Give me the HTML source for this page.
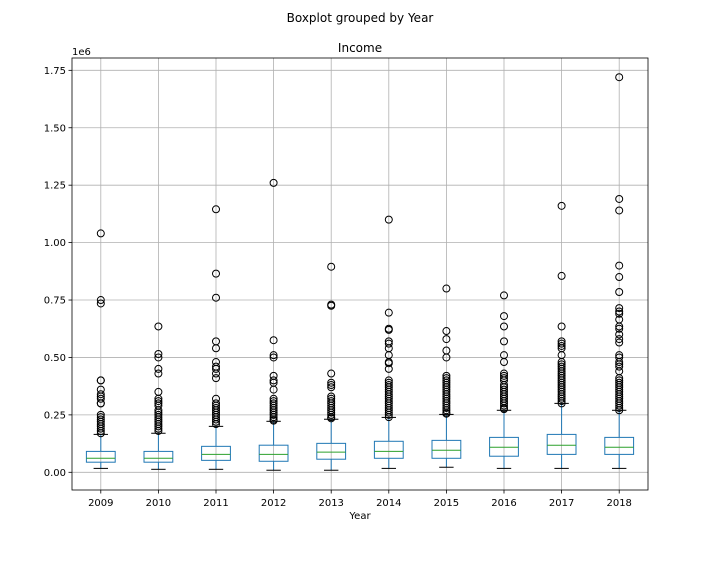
<!DOCTYPE html>
<html><head><meta charset="utf-8"><style>
body{margin:0;background:#fff;font-family:"Liberation Sans","DejaVu Sans",sans-serif;}
svg{display:block}
text{font-family:"DejaVu Sans","Liberation Sans",sans-serif;fill:#000}
</style></head><body>
<svg id="chart" width="720" height="576" viewBox="0 0 720 576">
<text x="360" y="22" font-size="12" text-anchor="middle">Boxplot grouped by Year</text>
<text x="360" y="52" font-size="12" text-anchor="middle">Income</text>
<text x="72" y="55" font-size="10">1e6</text>
<text x="360" y="519" font-size="10" text-anchor="middle">Year</text>
<g id="grid"></g><g id="marks"></g><g id="axes"></g>
</svg>
<script>
const years=["2009","2010","2011","2012","2013","2014","2015","2016","2017","2018"];
const q1=[0.044,0.044,0.052,0.048,0.057,0.061,0.061,0.070,0.078,0.078];
const medians=[0.061,0.061,0.078,0.078,0.088,0.091,0.096,0.109,0.118,0.109];
const q3=[0.091,0.091,0.113,0.118,0.126,0.135,0.139,0.152,0.165,0.152];
const whiskLow=[0.017,0.013,0.013,0.009,0.009,0.017,0.022,0.017,0.017,0.017];
const whiskHigh=[0.165,0.170,0.200,0.222,0.231,0.239,0.252,0.270,0.300,0.270];
const outliers=[
[1.04,0.75,0.735,0.40,0.40,0.36,0.34,0.33,0.32,0.30,0.30,0.25,0.24,0.23,0.22,0.21,0.20,0.19,0.18,0.17],
[0.635,0.515,0.50,0.45,0.43,0.35,0.32,0.31,0.30,0.29,0.27,0.26,0.25,0.24,0.23,0.22,0.21,0.20,0.19,0.18],
[1.145,0.865,0.76,0.57,0.54,0.48,0.46,0.45,0.43,0.41,0.32,0.30,0.29,0.28,0.27,0.26,0.25,0.24,0.23,0.22,0.21],
[1.26,0.575,0.51,0.50,0.42,0.40,0.39,0.36,0.32,0.31,0.30,0.29,0.28,0.27,0.26,0.25,0.24,0.23,0.225],
[0.895,0.73,0.725,0.43,0.39,0.38,0.37,0.33,0.32,0.31,0.30,0.29,0.28,0.27,0.26,0.25,0.24,0.235],
[1.10,0.695,0.625,0.62,0.57,0.56,0.54,0.51,0.48,0.475,0.45,0.40,0.39,0.38,0.37,0.36,0.35,0.34,0.33,0.32,0.31,0.30,0.29,0.28,0.27,0.26,0.25,0.24],
[0.80,0.615,0.58,0.53,0.50,0.42,0.41,0.40,0.39,0.38,0.37,0.36,0.35,0.34,0.33,0.32,0.31,0.30,0.29,0.28,0.27,0.26,0.255],
[0.77,0.68,0.635,0.57,0.51,0.48,0.43,0.42,0.41,0.40,0.38,0.37,0.36,0.35,0.34,0.33,0.32,0.31,0.30,0.29,0.28,0.275],
[1.16,0.855,0.635,0.57,0.56,0.55,0.54,0.51,0.48,0.47,0.46,0.45,0.44,0.43,0.42,0.41,0.40,0.39,0.38,0.37,0.36,0.35,0.34,0.33,0.32,0.31,0.30],
[1.72,1.19,1.14,0.90,0.85,0.785,0.715,0.70,0.69,0.665,0.635,0.625,0.60,0.58,0.565,0.51,0.50,0.48,0.47,0.46,0.44,0.41,0.40,0.39,0.38,0.37,0.36,0.35,0.34,0.33,0.32,0.31,0.30,0.29,0.28,0.27]
];
const yTicks=[0,0.25,0.5,0.75,1.0,1.25,1.5,1.75];
const yTickLabels=["0.00","0.25","0.50","0.75","1.00","1.25","1.50","1.75"];

const L=72,R=648,T=58,B=490;
const y=v=>472.3-v*229.7;
const step=(R-L)/years.length;
const x=i=>L+step*(i+0.5);
const NS="http://www.w3.org/2000/svg";
function mk(tag,attrs,parent){const e=document.createElementNS(NS,tag);for(const k in attrs)e.setAttribute(k,attrs[k]);parent.appendChild(e);return e;}
const grid=document.getElementById('grid'),marks=document.getElementById('marks'),axes=document.getElementById('axes');
yTicks.forEach((t,i)=>{
 const g=mk('line',{x1:L,x2:R,y1:y(t),y2:y(t),stroke:'#b0b0b0','stroke-width':0.8},grid);
 
 
 mk('line',{x1:L-3.5,x2:L,y1:y(t),y2:y(t),stroke:'#000','stroke-width':0.8},axes);
 const tx=mk('text',{x:L-6,y:y(t)+3.5,'font-size':10,'text-anchor':'end'},axes);
 tx.textContent=yTickLabels[i];
 
 
});
years.forEach((yr,i)=>{
 const cx=x(i);
 const g=mk('line',{x1:cx,x2:cx,y1:T,y2:B,stroke:'#b0b0b0','stroke-width':0.8},grid);
 
 
 mk('line',{x1:cx,x2:cx,y1:B,y2:B+3.5,stroke:'#000','stroke-width':0.8},axes);
 const tx=mk('text',{x:cx,y:B+16,'font-size':10,'text-anchor':'middle'},axes);
 tx.textContent=yr;
 
 
 const grp=mk('g',{},marks);
 
 
 const bw=step*0.5,cw=step*0.25;
 mk('line',{x1:cx,x2:cx,y1:y(q3[i]),y2:y(whiskHigh[i]),stroke:'#1f77b4','stroke-width':1},grp);
 mk('line',{x1:cx,x2:cx,y1:y(q1[i]),y2:y(whiskLow[i]),stroke:'#1f77b4','stroke-width':1},grp);
 mk('line',{x1:cx-cw/2,x2:cx+cw/2,y1:y(whiskHigh[i]),y2:y(whiskHigh[i]),stroke:'#000','stroke-width':1},grp);
 mk('line',{x1:cx-cw/2,x2:cx+cw/2,y1:y(whiskLow[i]),y2:y(whiskLow[i]),stroke:'#000','stroke-width':1},grp);
 mk('rect',{x:cx-bw/2,y:y(q3[i]),width:bw,height:y(q1[i])-y(q3[i]),fill:'none',stroke:'#1f77b4','stroke-width':1},grp);
 mk('line',{x1:cx-bw/2,x2:cx+bw/2,y1:y(medians[i]),y2:y(medians[i]),stroke:'#2ca02c','stroke-width':1},grp);
 outliers[i].forEach(v=>{
  const c=mk('circle',{cx:cx,cy:y(v),r:3.5,fill:'none',stroke:'#000','stroke-width':1},grp);
  
  
 });
});
const fr=mk('rect',{x:L,y:T,width:R-L,height:B-T,fill:'none',stroke:'#000','stroke-width':0.8},axes);


</script>
</body></html>
